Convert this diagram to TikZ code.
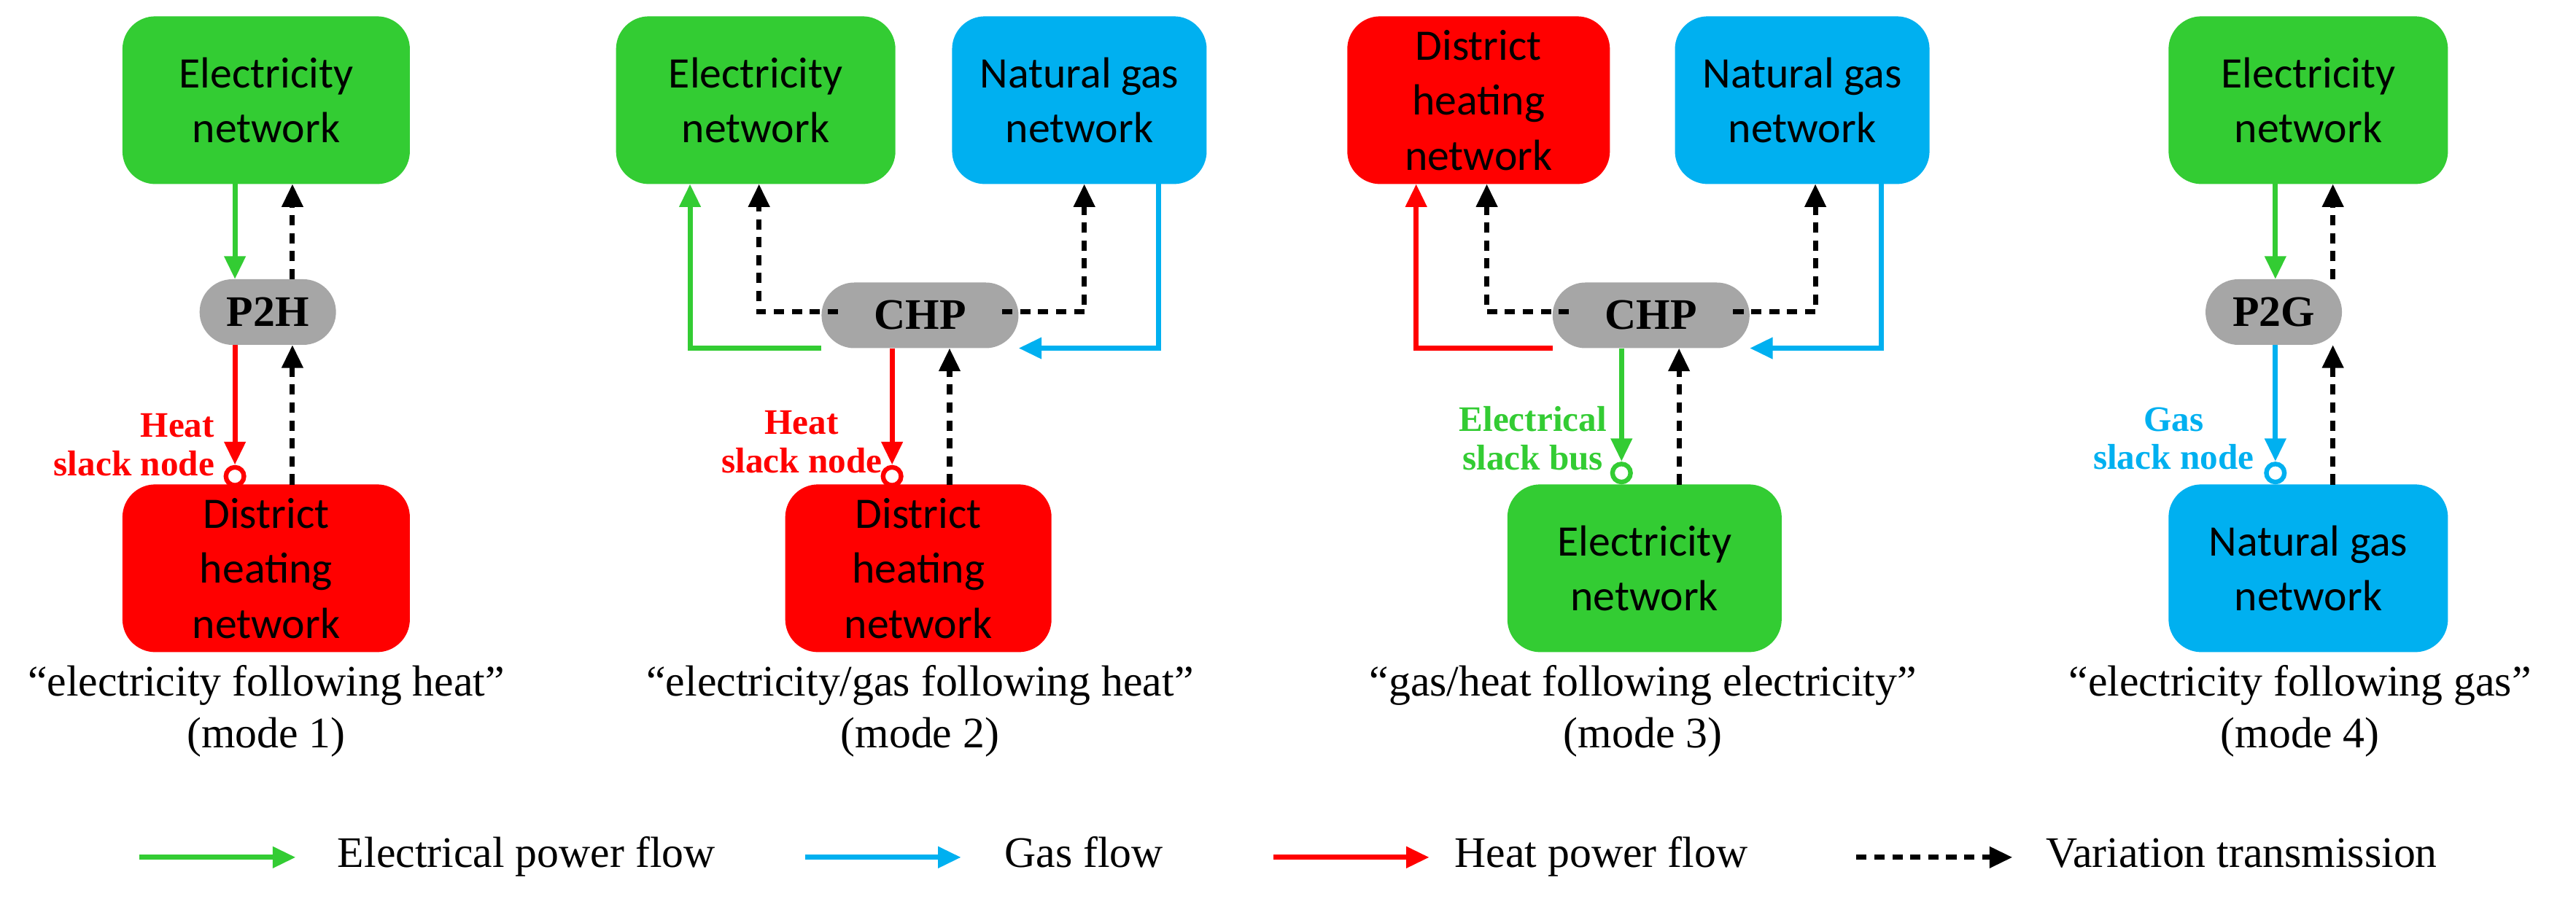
\documentclass[tikz,border=0pt]{standalone}
\usepackage{fontspec}
\setmainfont{Liberation Serif}
\newfontfamily\calfont{Carlito}
\usetikzlibrary{arrows.meta}
\definecolor{G}{HTML}{33CC33}
\definecolor{B}{HTML}{00B0F0}
\definecolor{R}{HTML}{FF0000}
\definecolor{Gy}{HTML}{A6A6A6}
\begin{document}
\begin{tikzpicture}[x=0.022526cm,y=-0.022526cm,
 box/.style={rounded corners=0.45cm,minimum height=2.3cm,align=center,font=\calfont\fontsize{17}{21.5}\selectfont,inner sep=0},
 pill/.style={fill=Gy,rounded corners=0.45cm,minimum height=0.9cm,font=\bfseries\fontsize{17}{18}\selectfont,inner sep=0},
 fl/.style={line width=2pt,-{Triangle[length=9pt,width=8pt]}},
 va/.style={line width=2pt,black,dash pattern=on 4pt off 3pt,-{Triangle[length=9pt,width=8pt]}},
 sl/.style={line width=1.8pt},
 lab/.style={font=\bfseries\fontsize{14}{15}\selectfont,align=center},
 captxt/.style={font=\fontsize{17}{20}\selectfont,align=center}]
\useasboundingbox (0,0) rectangle (1568,547);
% panel 1
\node[box,fill=G,minimum width=3.94cm] (e1) at (162,61) {Electricity\\network};
\node[pill,minimum width=1.87cm] (p1) at (163,190) {P2H};
\node[box,fill=R,minimum width=3.94cm] (d1) at (162,346) {District\\heating\\network};
\draw[fl,G] (143,112) -- (143,170);
\draw[va] (178,170) -- (178,112);
\draw[fl,R] (143,210) -- (143,283);
\draw[sl,draw=R,fill=white] (143,290) circle (5.5);
\draw[va] (178,295) -- (178,210);
\node[lab,R,align=right,anchor=east] (l1) at (136,271) {Heat\\slack node};
\node[captxt] (c1) at (162,433) {“electricity following heat”\\(mode 1)};
% panel 2
\node[box,fill=G,minimum width=3.83cm] (e2) at (460,61) {Electricity\\network};
\node[box,fill=B,minimum width=3.49cm] (n2) at (657,61) {Natural gas\\network};
\node[pill,minimum width=2.7cm] (p2) at (560,192) {CHP};
\node[box,fill=R,minimum width=3.65cm] (d2) at (559,346) {District\\heating\\network};
\draw[fl,G] (500,212) -- (420,212) -- (420,112);
\draw[va] (510,190) -- (462,190) -- (462,112);
\draw[va] (610,190) -- (660,190) -- (660,112);
\draw[fl,B] (705,112) -- (705,212) -- (620,212);
\draw[fl,R] (543,212) -- (543,283);
\draw[sl,draw=R,fill=white] (543,290) circle (5.5);
\draw[va] (578,295) -- (578,212);
\node[lab,R] (l2) at (488,269) {Heat\\slack node};
\node[captxt] (c2) at (560,433) {“electricity/gas following heat”\\(mode 2)};
% panel 3
\node[box,fill=R,minimum width=3.6cm] (d3) at (900,61) {District\\heating\\network};
\node[box,fill=B,minimum width=3.49cm] (n3) at (1097,61) {Natural gas\\network};
\node[pill,minimum width=2.7cm] (p3) at (1005,192) {CHP};
\node[box,fill=G,minimum width=3.76cm] (e3) at (1001,346) {Electricity\\network};
\draw[fl,R] (945,212) -- (862,212) -- (862,112);
\draw[va] (955,190) -- (905,190) -- (905,112);
\draw[va] (1055,190) -- (1105,190) -- (1105,112);
\draw[fl,B] (1145,112) -- (1145,212) -- (1065,212);
\draw[fl,G] (987,212) -- (987,281);
\draw[sl,draw=G,fill=white] (987,288) circle (5.5);
\draw[va] (1022,295) -- (1022,212);
\node[lab,G] (l3) at (933,267) {Electrical\\slack bus};
\node[captxt] (c3) at (1000,433) {“gas/heat following electricity”\\(mode 3)};
% panel 4
\node[box,fill=G,minimum width=3.83cm] (e4) at (1405,61) {Electricity\\network};
\node[pill,minimum width=1.87cm] (p4) at (1384,190) {P2G};
\node[box,fill=B,minimum width=3.83cm] (n4) at (1405,346) {Natural gas\\network};
\draw[fl,G] (1385,112) -- (1385,170);
\draw[va] (1420,170) -- (1420,112);
\draw[fl,B] (1385,210) -- (1385,281);
\draw[sl,draw=B,fill=white] (1385,288) circle (5.5);
\draw[va] (1420,295) -- (1420,210);
\node[lab,B] (l4) at (1323,267) {Gas\\slack node};
\node[captxt] (c4) at (1400,433) {“electricity following gas”\\(mode 4)};
% legend
\coordinate (a1) at (85,522); \coordinate (a2) at (180,522);
\draw[fl,G] (a1) -- (a2); \node[captxt,anchor=base west] (t1) at (200,528) {Electrical power flow};
\coordinate (b1) at (490,522); \coordinate (b2) at (585,522);
\draw[fl,B] (b1) -- (b2); \node[captxt,anchor=base west] (t2) at (606,528) {Gas flow};
\coordinate (r1) at (775,522); \coordinate (r2) at (870,522);
\draw[fl,R] (r1) -- (r2); \node[captxt,anchor=base west] (t3) at (880,528) {Heat power flow};
\coordinate (v1) at (1130,522); \coordinate (v2) at (1225,522);
\draw[va] (v1) -- (v2); \node[captxt,anchor=base west] (t4) at (1240,528) {Variation transmission};
\end{tikzpicture}
\end{document}
